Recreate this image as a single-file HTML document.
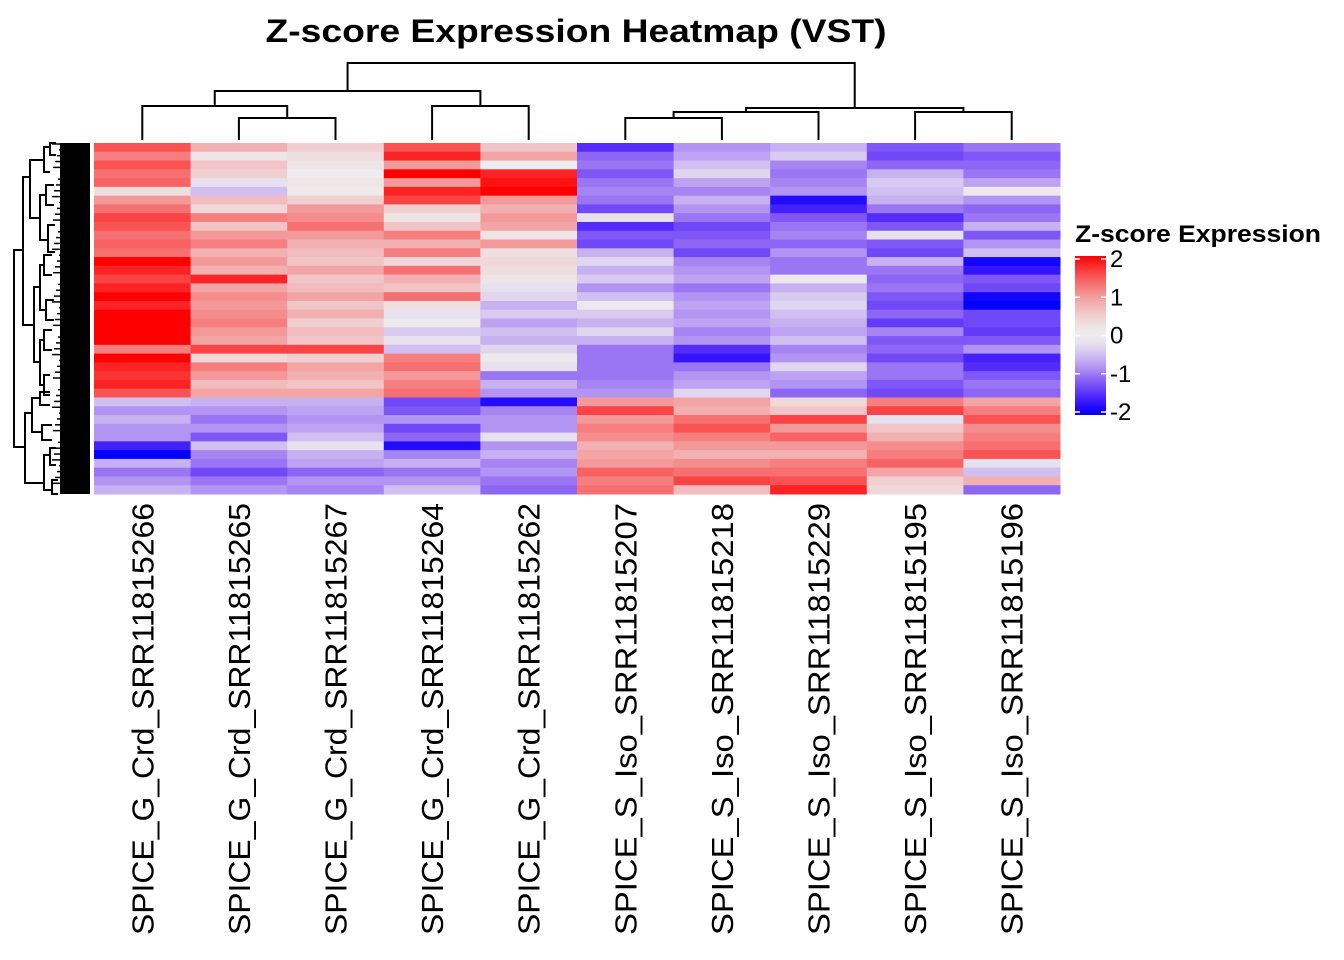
<!DOCTYPE html>
<html><head><meta charset="utf-8"><style>
html,body{margin:0;padding:0;background:#fff;}
svg{display:block;font-family:"Liberation Sans",Arial,sans-serif;}
</style></head><body>
<svg id="chart" width="1344" height="960" viewBox="0 0 1344 960" xmlns="http://www.w3.org/2000/svg">
<text x="576" y="42" text-anchor="middle" font-size="32" font-weight="bold" textLength="621" lengthAdjust="spacingAndGlyphs">Z-score Expression Heatmap (VST)</text>
<g id="cells"></g>
<g id="coldend" stroke="#000" stroke-width="2" fill="none"></g>
<g id="rowdend" stroke="#000" stroke-width="2" fill="none"></g>
<g id="labels"></g>
<g id="legend"></g>
</svg>
<script>
const samples = ["SPICE_G_Crd_SRR11815266","SPICE_G_Crd_SRR11815265","SPICE_G_Crd_SRR11815267","SPICE_G_Crd_SRR11815264","SPICE_G_Crd_SRR11815262","SPICE_S_Iso_SRR11815207","SPICE_S_Iso_SRR11815218","SPICE_S_Iso_SRR11815229","SPICE_S_Iso_SRR11815195","SPICE_S_Iso_SRR11815196"];
const col1 = [1.5,1.2,1.5,1.3,1.4,0.3,1.0,1.3,1.6,1.5,1.3,1.4,1.3,2.0,1.8,1.6,1.8,2.0,1.8,2.0,2.2,2.2,2.1,1.2,2.0,1.8,1.7,1.8,1.5,-0.5,-0.8,-0.6,-0.8,-0.8,-1.6,-2.0,-0.6,-1.0,-0.8,-0.6];
const col2 = [0.8,0.2,0.6,0.5,-0.2,-0.5,0.7,0.4,1.2,0.6,1.0,1.2,0.8,1.0,0.8,1.8,0.9,1.1,1.0,1.1,1.2,1.0,0.9,1.6,0.4,1.2,1.0,0.7,0.9,-0.6,-0.8,-1.0,-0.8,-1.2,-0.5,-0.9,-1.0,-1.3,-1.0,-0.8];
const col3 = [0.5,0.3,0.2,0.0,0.2,0.1,0.5,1.0,1.1,1.3,1.0,0.8,0.7,0.6,0.9,0.6,0.7,0.9,0.6,0.8,0.5,0.7,0.6,1.6,0.5,0.9,0.8,0.6,0.9,-0.6,-0.7,-0.8,-0.7,-0.5,-0.2,-0.6,-0.7,-1.1,-0.8,-0.9];
const col4 = [1.5,1.8,1.0,2.1,1.0,1.8,1.6,0.5,0.2,0.6,1.2,0.8,1.2,0.4,1.3,0.8,0.6,1.3,0.3,-0.2,0.1,-0.4,-0.2,-0.5,1.2,1.3,1.0,1.2,1.3,-1.3,-1.2,-0.8,-1.3,-1.1,-1.8,-0.9,-0.6,-1.0,-0.8,-0.5];
const col5 = [0.6,0.9,0.0,1.8,1.9,2.0,1.0,0.8,1.0,0.9,0.2,1.0,0.3,0.4,0.3,0.2,-0.2,-0.3,-0.6,-0.4,-0.7,-0.5,-0.6,-0.3,0.1,-0.2,-1.0,-0.6,-0.8,-1.8,-0.9,-0.8,-0.8,-0.2,-0.8,-0.6,-0.9,-0.8,-1.0,-1.1];
const col6 = [-1.5,-1.1,-1.0,-1.2,-1.0,-0.9,-1.0,-1.3,-0.2,-1.5,-1.2,-1.3,-0.6,-0.3,-0.6,-0.4,-0.8,-0.5,-0.1,-0.4,-0.6,-0.3,-0.6,-1.0,-1.0,-1.0,-1.0,-0.9,-0.8,1.0,1.6,1.0,1.2,1.1,0.8,0.9,1.0,1.4,1.2,1.3];
const col7 = [-0.8,-0.7,-0.5,-0.3,-0.7,-0.9,-0.6,-0.8,-1.0,-1.3,-1.2,-1.1,-1.3,-0.9,-0.8,-0.7,-1.0,-0.8,-0.7,-0.8,-0.7,-0.9,-0.8,-1.5,-1.7,-1.0,-0.8,-0.7,-0.3,0.9,0.8,1.3,1.5,1.2,1.0,0.8,1.1,1.3,1.6,0.7];
const col8 = [-0.6,-0.4,-0.9,-1.0,-0.9,-0.8,-1.8,-1.6,-1.2,-1.0,-0.9,-1.1,-0.8,-1.0,-1.0,-0.1,-0.6,-0.4,-0.3,-0.5,-0.6,-0.7,-0.5,-0.9,-0.8,-0.3,-0.7,-0.8,-1.1,0.4,0.6,1.6,1.0,1.4,1.0,0.8,1.2,1.3,1.5,1.8];
const col9 = [-1.2,-1.3,-1.1,-0.6,-0.4,-0.5,-0.6,-1.0,-1.5,-1.2,-0.2,-1.2,-1.3,-0.6,-1.0,-1.1,-1.0,-1.2,-1.3,-1.1,-1.4,-0.9,-1.2,-1.1,-1.3,-1.0,-1.0,-1.2,-1.3,1.2,1.6,-0.2,0.6,0.8,1.1,1.2,1.4,0.9,0.5,0.4];
const col10 = [-1.0,-1.2,-1.1,-1.0,-0.7,0.1,-0.8,-1.1,-1.0,-0.6,-1.2,-0.8,-0.5,-1.9,-1.7,-1.2,-1.3,-1.9,-2.0,-1.3,-1.3,-1.4,-1.2,-0.8,-1.6,-1.5,-1.2,-1.0,-1.1,0.9,1.2,1.5,1.1,1.2,1.3,1.5,-0.2,-0.5,0.8,-1.1];
const columns = [col1,col2,col3,col4,col5,col6,col7,col8,col9,col10];
const legendTicks = [2,1,0,-1,-2];

const NS="http://www.w3.org/2000/svg";
const X0=94,X1=1060,Y0=143,Y1=494;
const nRows=col1.length;
const cw=(X1-X0)/columns.length, rh=(Y1-Y0)/nRows;
const xOf=i=>X0+i*cw, yOf=r=>Y0+r*rh;
function color(v){
  v=Math.max(-2,Math.min(2,v));
  const mid=[238,236,238];
  let c;
  const t=Math.pow(Math.abs(v)/2,1.5);
  if(v>=0){c=[mid[0]+(255-mid[0])*t,mid[1]*(1-t),mid[2]*(1-t)];}
  else{c=[mid[0]*(1-t),mid[1]*Math.pow(1-t,1.6),mid[2]+(255-mid[2])*t];}
  return `rgb(${c.map(Math.round).join(',')})`;
}
function mk(tag,attrs,parent){const e=document.createElementNS(NS,tag);for(const k in attrs)e.setAttribute(k,attrs[k]);parent.appendChild(e);return e;}
const cells=document.getElementById('cells');
columns.forEach((col,ci)=>{
  col.forEach((v,ri)=>{
    const r=mk('rect',{x:xOf(ci),y:yOf(ri),width:cw+0.5,height:rh+0.5,fill:color(v)},cells);
    
    
  });
});
// column labels
const lab=document.getElementById('labels');
samples.forEach((s,i)=>{
  const cx=xOf(i)+cw/2+11;
  const t=mk('text',{x:0,y:0,transform:`translate(${cx},503) rotate(-90)`,'text-anchor':'end','font-size':31,textLength:432,lengthAdjust:'spacingAndGlyphs'},lab);
  t.textContent=s;
  
  
});
// column dendrogram
const cd=document.getElementById('coldend');
const cx=i=>xOf(i)+cw/2;
function U(xa,ya,xb,yb,yt){mk('path',{d:`M${xa},${ya}V${yt}H${xb}V${yb}`},cd);}
const m12=(cx(1)+cx(2))/2;
U(cx(1),140,cx(2),140,118);
U(cx(0),140,m12,118,106);
U(cx(3),140,cx(4),140,106);
const lA=(cx(0)+m12)/2, lB=(cx(3)+cx(4))/2;
U(lA,106,lB,106,91);
U(cx(5),140,cx(6),140,118);
const m56=(cx(5)+cx(6))/2;
U(m56,118,cx(7),140,112);
U(cx(8),140,cx(9),140,112);
const rA=(m56+cx(7))/2, rB=(cx(8)+cx(9))/2;
U(rA,112,rB,112,108);
const L=(lA+lB)/2, R=(rA+rB)/2;
U(L,91,R,108,63);
// row dendrogram (approximate)
const rd=document.getElementById('rowdend');
function V(x1,ya,yb,x2a,x2b){mk('path',{d:`M${x2a},${ya}H${x1}V${yb}H${x2b}`},rd);}
V(14,250,447,23,25);
V(23,177,325,30,34);
V(30,160,218,44,40);
V(44,147,172,50,50);
V(50,143,155,56,56);
V(40,195,240,46,48);
V(46,185,205,54,54);
V(48,225,252,55,55);
V(34,287,362,40,40);
V(40,265,310,44,46);
V(44,255,275,52,52);
V(46,300,320,54,54);
V(40,340,385,44,44);
V(44,330,350,52,52);
V(44,375,395,50,50);
V(25,413,483,32,44);
V(32,398,432,40,42);
V(40,392,405,50,50);
V(42,425,440,52,52);
V(44,455,490,50,52);
V(50,448,465,56,56);
V(52,480,494,58,58);
mk('rect',{x:60,y:143,width:30,height:351,fill:'#000',stroke:'none'},rd);
for(let k=0;k<60;k++){const y=144+k*5.85;mk('path',{d:`M${52+(k*7)%9},${y}H60`,'stroke-width':1.5},rd);}
// legend
const lg=document.getElementById('legend');
const lt=mk('text',{x:1075,y:242,'font-size':24,'font-weight':'bold',textLength:246,lengthAdjust:'spacingAndGlyphs'},lg);
lt.textContent='Z-score Expression';


const defs=mk('defs',{},lg);
const gr=mk('linearGradient',{id:'lgGrad',x1:0,y1:0,x2:0,y2:1},defs);
for(let k=0;k<=20;k++){const v=2-4*k/20;mk('stop',{offset:(k/20),'stop-color':color(v)},gr);}
const barTop=256,barBot=415;
const lgY=v=>barTop+3+(2-v)/4*(barBot-barTop-6);
const bar=mk('rect',{x:1075,y:barTop,width:31,height:barBot-barTop,fill:'url(#lgGrad)'},lg);


legendTicks.forEach(v=>{
  const y=lgY(v);
  mk('line',{x1:1075,x2:1080,y1:y,y2:y,stroke:'#fff','stroke-width':1.5},lg);
  mk('line',{x1:1101,x2:1106,y1:y,y2:y,stroke:'#fff','stroke-width':1.5},lg);
  const t=mk('text',{x:1110,y:y+8,'font-size':24},lg);
  t.textContent=v<0?'-'+Math.abs(v):String(v);
  
  
});
</script>
</body></html>
